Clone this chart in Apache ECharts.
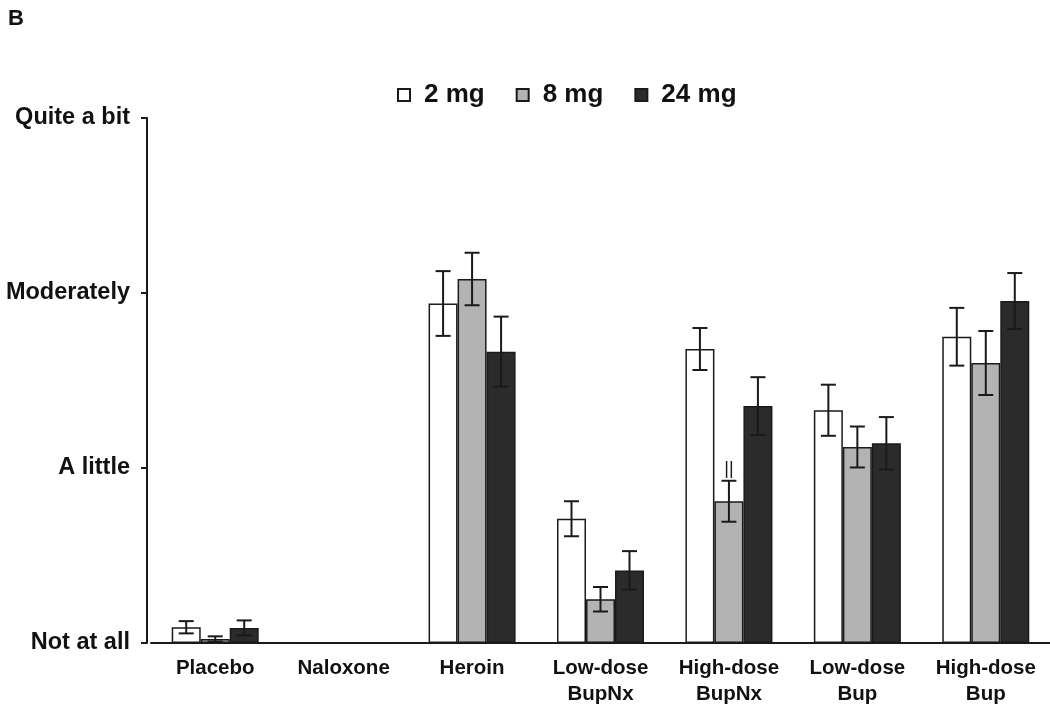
<!DOCTYPE html>
<html>
<head>
<meta charset="utf-8">
<script src="https://cdn.jsdelivr.net/npm/echarts@6/dist/echarts.min.js"></script>
<style>html,body{margin:0;padding:0;background:#fff;}#chart{width:1050px;height:707px;}</style>
</head>
<body>
<div id="chart"></div>
<script>
const categories = ['Placebo', 'Naloxone', 'Heroin', 'Low-dose\nBupNx', 'High-dose\nBupNx', 'Low-dose\nBup', 'High-dose\nBup'];
const yTickLabels = ['Not at all', 'A little', 'Moderately', 'Quite a bit'];
const seriesNames = ['2 mg', '8 mg', '24 mg'];
const mg2 = [0.09, 0, 1.94, 0.71, 1.68, 1.33, 1.75];
const mg2Err = [0.035, 0, 0.185, 0.10, 0.12, 0.146, 0.165];
const mg8 = [0.023, 0, 2.08, 0.25, 0.81, 1.12, 1.60];
const mg8Err = [0.015, 0, 0.15, 0.07, 0.117, 0.117, 0.183];
const mg24 = [0.086, 0, 1.665, 0.415, 1.354, 1.141, 1.954];
const mg24Err = [0.043, 0, 0.2, 0.11, 0.165, 0.15, 0.16];
const mg8Sig = ['', '', '', '', '||', '', ''];

const colors = ['#ffffff', '#b3b3b3', '#2b2b2b'];
const FONT = '"Liberation Sans", Arial, sans-serif';
const BAR_W = 29;

const values = [mg2, mg8, mg24];
const errs = [mg2Err, mg8Err, mg24Err];
const sigs = [[], mg8Sig, []];

const chart = echarts.init(document.getElementById('chart'), null, {renderer: 'canvas'});

function errSeries(si) {
  return {
    type: 'custom',
    name: seriesNames[si] + ' err',
    z: 5,
    silent: true,
    data: values[si].map((v, i) => [i, v, errs[si][i]]),
    renderItem: function (params, api) {
      const idx = api.value(0), v = api.value(1), e = api.value(2);
      const sig = sigs[si][idx] || '';
      const base = api.coord([idx, v]);
      const x = base[0] + (si - 1) * BAR_W;
      const children = [];
      const cap = 7.5;
      if (e > 0) {
        const top = api.coord([idx, v + e])[1];
        const bot = api.coord([idx, v - e])[1];
        const st = {stroke: '#1a1a1a', lineWidth: 2};
        children.push({type: 'line', shape: {x1: x, y1: top, x2: x, y2: bot}, style: st});
        children.push({type: 'line', shape: {x1: x - cap, y1: top, x2: x + cap, y2: top}, style: st});
        children.push({type: 'line', shape: {x1: x - cap, y1: bot, x2: x + cap, y2: bot}, style: st});
        if (sig) {
          children.push({type: 'text', style: {text: sig, x: x, y: top - 3, align: 'center', verticalAlign: 'bottom', font: '18px ' + FONT, fill: '#1a1a1a'}});
        }
      }
      return {type: 'group', children: children};
    }
  };
}

const option = {
  backgroundColor: '#ffffff',
  animation: false,
  title: {
    text: 'B', left: 3, top: 3,
    textStyle: {fontFamily: FONT, fontWeight: 'bold', fontSize: 22, color: '#111'}
  },
  legend: {
    data: seriesNames,
    top: 77,
    left: 392,
    itemWidth: 12,
    itemHeight: 12,
    itemGap: 31,
    icon: 'rect',
    textStyle: {fontFamily: FONT, fontWeight: 'bold', fontSize: 26, color: '#111', padding: [0, 0, 0, 9]}
  },
  grid: {left: 151, right: 0, top: 118, bottom: 64, containLabel: false},
  xAxis: {
    type: 'category',
    data: categories,
    axisLine: {show: true, lineStyle: {color: '#1a1a1a', width: 2}},
    axisTick: {show: false},
    axisLabel: {
      interval: 0, margin: 12, fontFamily: FONT, fontWeight: 'bold', fontSize: 20.5,
      color: '#111', lineHeight: 26, align: 'center'
    },
    splitLine: {show: false}
  },
  yAxis: {
    type: 'value',
    min: 0, max: 3, interval: 1,
    offset: 4,
    axisLine: {show: true, lineStyle: {color: '#1a1a1a', width: 2}},
    axisTick: {show: true, length: 6, lineStyle: {color: '#1a1a1a', width: 2}},
    axisLabel: {
      margin: 17, fontFamily: FONT, fontWeight: 'bold', fontSize: 23.5, color: '#111',
      formatter: v => yTickLabels[Math.round(v)]
    },
    splitLine: {show: false}
  },
  series: [
    ...seriesNames.map((n, si) => ({
      type: 'bar',
      name: n,
      data: values[si],
      barWidth: BAR_W,
      barGap: '0%',
      itemStyle: {color: colors[si], borderColor: '#1a1a1a', borderWidth: 1.5},
      emphasis: {disabled: true}
    })),
    errSeries(0), errSeries(1), errSeries(2)
  ]
};
chart.setOption(option);
</script>
</body>
</html>
